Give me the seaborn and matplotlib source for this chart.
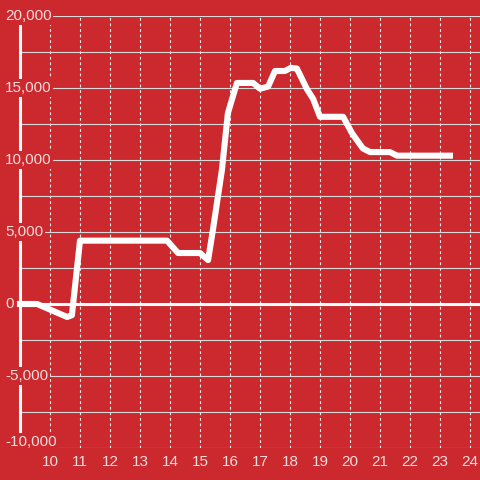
import pandas as pd
import matplotlib
matplotlib.use('Agg')
import matplotlib.pyplot as plt
import seaborn as sns

# hour of day vs running total
hours = [9.0, 9.57, 10.57, 10.73, 11.0, 13.9, 14.27, 15.0, 15.27, 15.43,
         15.73, 15.93, 16.23, 16.77, 17.0, 17.27, 17.5, 17.83, 18.03, 18.23,
         18.57, 18.77, 19.0, 19.77, 20.07, 20.43, 20.67, 21.33, 21.57, 23.33]
values = [0, 0, -900, -780, 4400, 4400, 3540, 3540, 3050, 5140,
          9300, 13260, 15350, 15350, 14950, 15100, 16180, 16180, 16400, 16350,
          14900, 14250, 13000, 13000, 11850, 10800, 10550, 10550, 10300, 10300]
y_ticks = [20000, 15000, 10000, 5000, 0, -5000, -10000]
x_ticks = list(range(10, 25))

df = pd.DataFrame({'hour': hours, 'value': values})

red = '#cc292f'
txt = '#f3dcdc'

sns.set_style('white')
plt.rcParams['font.family'] = ['Liberation Sans', 'DejaVu Sans']

fig = plt.figure(figsize=(4.8, 4.8), dpi=100, facecolor=red)
ax = fig.add_axes([20 / 480, 32 / 480, 460 / 480, 432 / 480])
ax.set_facecolor(red)

sns.lineplot(data=df, x='hour', y='value', color='white', lw=4.4, ax=ax,
             zorder=4, clip_on=False)
ax.lines[-1].set_solid_capstyle('projecting')

ax.set_xlim(9.0, 24.333)
ax.set_ylim(-10000, 20000)

# grid
ax.set_yticks(range(-10000, 20001, 2500))
ax.set_xticks(x_ticks)
ax.grid(axis='y', color='#d9d9d9', lw=0.8)
ax.grid(axis='x', color='#f0f0f0', lw=0.8, linestyle=(0, (2.5, 2.5)))
ax.axhline(0, color='white', lw=2.2, zorder=3)

for s in ['top', 'right', 'bottom']:
    ax.spines[s].set_visible(False)
ax.spines['left'].set_color('white')
ax.spines['left'].set_linewidth(2.2)

ax.set_yticklabels([])
ax.tick_params(axis='y', length=0)
ax.tick_params(axis='x', length=0, pad=5, labelsize=11, labelcolor=txt)
ax.set_xticklabels([str(h) for h in x_ticks])
ax.set_xlabel('')
ax.set_ylabel('')

for v in y_ticks:
    # bottom label sits a little above its line
    yv = v + 420 if v == -10000 else v
    ax.text(-15 / 460, yv, f'{v:,}', transform=ax.get_yaxis_transform(),
            ha='left', va='center', fontsize=11, color=txt, zorder=10,
            clip_on=False,
            bbox=dict(boxstyle='square,pad=0.12', facecolor=red, edgecolor='none'))

fig.savefig('out.png', dpi=100, facecolor=red)
